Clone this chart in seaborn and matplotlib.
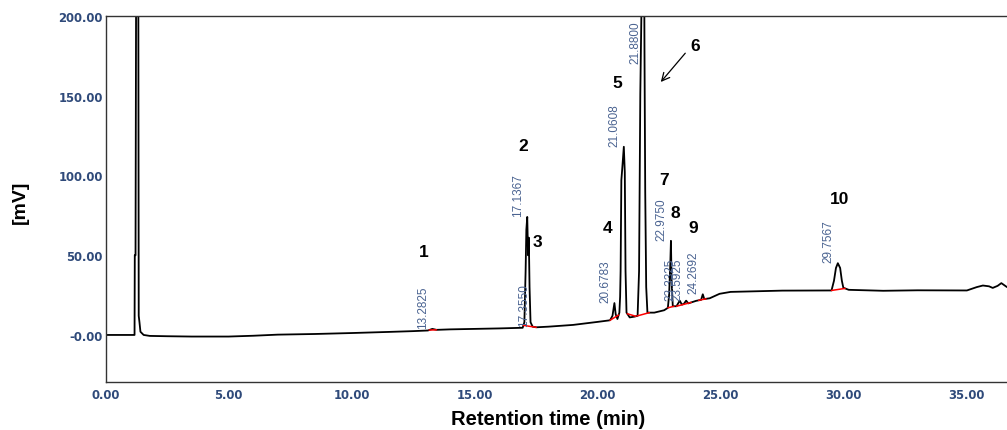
import numpy as np
import matplotlib
matplotlib.use("Agg")
import matplotlib.pyplot as plt
import seaborn as sns

# ---------------- data ----------------
time_min = [0.0, 1.15, 1.18, 1.19, 1.22, 1.25, 1.33, 1.35, 1.38, 1.42, 1.55, 1.8, 2.5,
            3.5, 5.0, 6.0, 7.0, 8.5, 10.0, 11.5, 12.5, 13.1, 13.28, 13.45, 14.0,
            15.0, 16.0, 16.95, 17.02, 17.07, 17.1, 17.1367, 17.17, 17.2, 17.23,
            17.27, 17.355, 17.5, 18.0, 19.0, 20.0, 20.5, 20.6, 20.6783, 20.73,
            20.8, 20.88, 20.91, 20.93, 20.96, 21.0, 21.0608, 21.1, 21.13, 21.17,
            21.3, 21.5, 21.62, 21.68, 21.73, 21.8, 21.88, 21.9, 21.93, 21.97,
            22.02, 22.3, 22.7, 22.85, 22.9, 22.95, 22.975, 23.0, 23.05, 23.2,
            23.3325, 23.42, 23.5, 23.5925, 23.68, 24.0, 24.2, 24.2692, 24.33,
            24.55, 24.95, 25.4, 26.2, 27.5, 29.5, 29.6, 29.68, 29.7567, 29.85,
            29.92, 29.98, 30.2, 31.6, 33.0, 35.0, 35.4, 35.65, 35.9, 36.05,
            36.25, 36.4, 36.63]
signal_mv = [0.0, 0.0, 0.0, 50.0, 50.0, 260.0, 260.0, 12.0, 8.0, 2.0, 0.0, -0.6, -0.8,
             -1.0, -1.0, -0.5, 0.2, 0.6, 1.2, 1.9, 2.4, 2.8, 3.8, 3.2, 3.5,
             3.8, 4.1, 4.5, 8.0, 40.0, 66.0, 74.0, 50.0, 61.0, 30.0,
             8.0, 5.2, 4.8, 5.2, 6.3, 8.2, 9.2, 12.0, 20.0, 13.0,
             10.0, 14.0, 24.0, 40.0, 97.0, 105.0, 118.0, 102.0, 40.0, 14.0,
             11.0, 11.5, 12.0, 40.0, 151.0, 230.0, 260.0, 179.0, 90.0, 30.0,
             14.0, 14.0, 15.5, 17.0, 25.0, 45.0, 59.0, 35.0, 18.0, 18.0,
             21.5, 19.0, 19.5, 21.5, 19.8, 21.4, 22.0, 25.5, 22.5,
             23.0, 25.8, 27.0, 27.3, 27.8, 27.9, 34.0, 42.0, 45.0, 42.0,
             34.0, 29.6, 28.3, 27.7, 28.0, 27.9, 30.0, 31.0, 30.5, 29.5,
             30.8, 32.5, 30.0]

# retention-time labels
ret_times = [13.2825, 17.1367, 17.3550, 20.6783, 21.0608, 21.8800, 22.9750,
             23.3325, 23.5925, 24.2692, 29.7567]
ret_labels = ["13.2825", "17.1367", "17.3550", "20.6783", "21.0608", "21.8800",
              "22.9750", "23.3325", "23.5925", "24.2692", "29.7567"]

# integration baselines (red)
base_start = [13.15, 16.98, 20.5, 21.2, 21.6, 22.85, 23.2, 24.1, 29.5]
base_end = [13.45, 17.5, 20.85, 21.55, 22.1, 23.1, 23.8, 24.4, 30.05]

# peak numbers
peak_nums = ["1", "2", "3", "4", "5", "6", "7", "8", "9", "10"]
peak_num_t = [12.92, 16.99, 17.55, 20.4, 20.8, 23.97, 22.69, 23.17, 23.86, 29.81]
peak_num_y = [52.2, 119.1, 58.5, 67.6, 158.3, 181.3, 97.2, 76.8, 67.4, 85.8]

x_ticks = [0, 5, 10, 15, 20, 25, 30, 35]
x_ticklabels = ["0.00", "5.00", "10.00", "15.00", "20.00", "25.00", "30.00", "35.00"]
y_ticks = [0, 50, 100, 150, 200]
y_ticklabels = ["-0.00", "50.00", "100.00", "150.00", "200.00"]

# ---------------- figure ----------------
sns.set_theme(style="white")
plt.rcParams["font.family"] = ["Liberation Sans", "DejaVu Sans"]

fig = plt.figure(figsize=(10.07, 4.31), dpi=100)
ax = fig.add_axes([105.5 / 1007, 1 - 383 / 431, 1 - 105.5 / 1007, (383 - 17) / 431])

t_arr = np.array(time_min)
s_arr = np.array(signal_mv)
sns.lineplot(x=t_arr, y=s_arr, estimator=None, sort=False, color="black",
             linewidth=1.3, ax=ax)

for a, b in zip(base_start, base_end):
    ax.plot([a, b], [np.interp(a, t_arr, s_arr), np.interp(b, t_arr, s_arr)],
            color="red", linewidth=1.1, zorder=3)

ax.set_xlim(0, 36.63)
ax.set_ylim(-29.5, 200)

ylim_top = 200
for rt, lab in zip(ret_times, ret_labels):
    yv = float(np.interp(rt, t_arr, s_arr))
    if yv > ylim_top - 3:
        ax.annotate(lab, xy=(rt, 197), xytext=(-9, 0), textcoords="offset pixels",
                    rotation=90, ha="center", va="top", fontsize=8.5,
                    color="#4a6391")
    else:
        ax.annotate(lab, xy=(rt, yv), xytext=(-9, 1), textcoords="offset pixels",
                    rotation=90, ha="center", va="bottom", fontsize=8.5,
                    color="#4a6391")

for n, tx, ty in zip(peak_nums, peak_num_t, peak_num_y):
    ax.text(tx, ty, n, ha="center", va="center", fontsize=12.5,
            fontweight="bold", color="black")

ax.annotate("", xy=(22.49, 157.3), xytext=(23.63, 178.0),
            arrowprops=dict(arrowstyle="->", color="black", lw=0.9,
                            mutation_scale=14))

ax.set_xticks(x_ticks)
ax.set_xticklabels(x_ticklabels)
ax.set_yticks(y_ticks)
ax.set_yticklabels(y_ticklabels)
for lab in ax.get_xticklabels() + ax.get_yticklabels():
    lab.set_family(["DejaVu Sans"])
    lab.set_fontweight("bold")
    lab.set_fontsize(8.4)
    lab.set_color("#2f4a7a")
ax.tick_params(axis="both", length=0)
ax.tick_params(axis="x", pad=4)
ax.tick_params(axis="y", pad=2)

ax.set_xlabel("Retention time (min)", fontsize=14.5, fontweight="bold",
              color="black", va="center")
ax.xaxis.set_label_coords(0.491, -0.101)
ax.set_ylabel("[mV]", fontsize=14, fontweight="bold", color="black", va="center")
ax.yaxis.set_label_coords(-0.094, 0.494)

for side in ["left", "top", "bottom"]:
    ax.spines[side].set_color("#333333")
    ax.spines[side].set_linewidth(1.0)
ax.spines["right"].set_visible(False)

fig.savefig("out.png", dpi=100)
